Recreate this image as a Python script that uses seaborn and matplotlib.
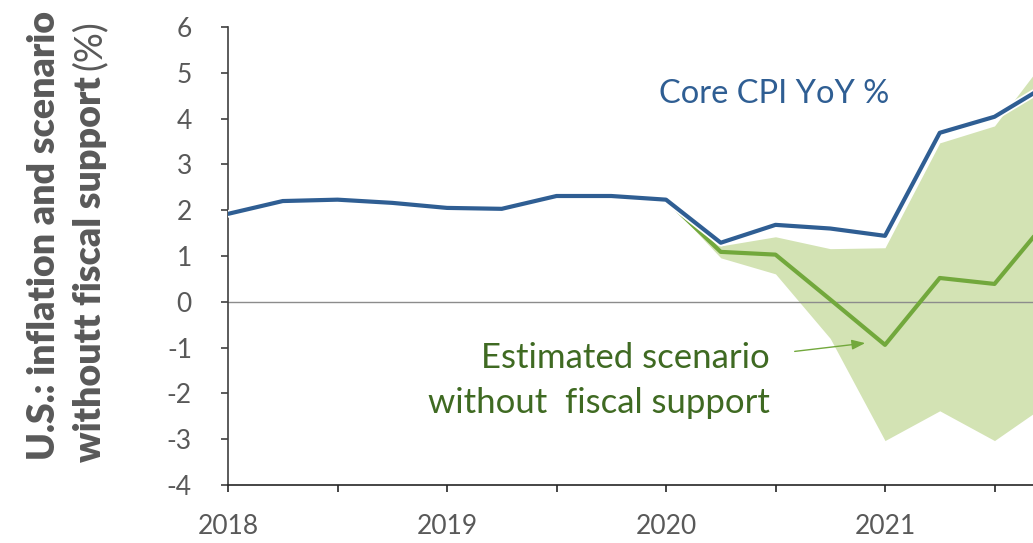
import matplotlib
matplotlib.use("Agg")
import matplotlib.pyplot as plt
import matplotlib.patheffects as pe
import seaborn as sns
import pandas as pd

# ---- data ----
quarters = [2018.00, 2018.25, 2018.50, 2018.75, 2019.00, 2019.25, 2019.50, 2019.75,
            2020.00, 2020.25, 2020.50, 2020.75, 2021.00, 2021.25, 2021.50, 2021.75]
core_cpi = [1.92, 2.20, 2.23, 2.16, 2.05, 2.03, 2.31, 2.31,
            2.23, 1.29, 1.68, 1.60, 1.44, 3.69, 4.04, 4.76]

scen_quarters = [2020.00, 2020.25, 2020.50, 2020.75, 2021.00, 2021.25, 2021.50, 2021.75]
scenario = [2.23, 1.09, 1.03, 0.05, -0.94, 0.52, 0.39, 1.83]
scen_low = [2.23, 0.96, 0.61, -0.80, -3.03, -2.38, -3.03, -2.20]
scen_high = [2.23, 1.22, 1.42, 1.16, 1.18, 3.47, 3.84, 5.41]

year_ticks = [2018, 2019, 2020, 2021]
year_labels = ["2018", "2019", "2020", "2021"]
y_ticks = [-4, -3, -2, -1, 0, 1, 2, 3, 4, 5, 6]

BLUE = "#2F5E93"
GREEN = "#72A83C"
BAND = "#D3E3B4"
DKGREEN = "#3F6A22"
GRAY = "#595959"

sns.set_style("white")
plt.rcParams["font.family"] = ["Lato", "DejaVu Sans"]

fig = plt.figure(figsize=(10.33, 5.43), dpi=100)
W, H = 1033, 543
ax = fig.add_axes([228 / W, (543 - 485) / H, 876 / W, 458 / H])

df_core = pd.DataFrame({"q": quarters, "v": core_cpi})
df_scen = pd.DataFrame({"q": scen_quarters, "v": scenario})

ax.fill_between(scen_quarters, scen_low, scen_high, color=BAND, lw=0, zorder=1)
ax.axhline(0, color="#8C8C8C", lw=1.0, zorder=2)

sns.lineplot(data=df_scen, x="q", y="v", ax=ax, color=GREEN, lw=3.0, zorder=3)
sns.lineplot(data=df_core, x="q", y="v", ax=ax, color=BLUE, lw=3.0, zorder=4,
             path_effects=[pe.Stroke(linewidth=5.5, foreground="white"), pe.Normal()])

ax.set_xlim(2018, 2022)
ax.set_ylim(-4, 6)
ax.set_yticks(y_ticks)
ax.set_yticklabels([str(t) for t in y_ticks])
ax.set_xticks(year_ticks)
ax.set_xticklabels(year_labels)
ax.set_xticks([2018.5, 2019.5, 2020.5, 2021.5], minor=True)
ax.set_xlabel("")
ax.set_ylabel("")

for s in ["top", "right"]:
    ax.spines[s].set_visible(False)
ax.spines["left"].set_color("#404040")
ax.spines["bottom"].set_color("#262626")
ax.spines["left"].set_linewidth(1.2)
ax.spines["bottom"].set_linewidth(1.2)

ax.tick_params(axis="y", which="major", direction="out", length=5, width=1.2,
               color="#404040", labelcolor=GRAY, labelsize=19, pad=21, left=True)
ax.tick_params(axis="x", which="both", direction="out", length=5, width=1.2,
               color="#262626", labelcolor=GRAY, labelsize=19, pad=16, bottom=True)
for lab in ax.get_yticklabels():
    lab.set_horizontalalignment("right")

# annotations
ax.text(2019.97, 4.35, "Core CPI YoY %", color=BLUE, fontsize=23.5,
        ha="left", va="baseline")
ax.text(2020.475, -1.44, "Estimated scenario", color=DKGREEN, fontsize=25,
        ha="right", va="baseline")
ax.text(2020.475, -2.42, "without  fiscal support", color=DKGREEN, fontsize=25,
        ha="right", va="baseline")
ax.annotate("", xy=(2020.922, -0.895), xytext=(2020.575, -1.09),
            arrowprops=dict(arrowstyle="-|>,head_length=0.8,head_width=0.3",
                            color=GREEN, lw=1.0))

# y label (two lines, mixed weight)
fig.text(44 / W, 1 - 235 / H, "U.S.: inflation and scenario", rotation=90,
         color=GRAY, fontsize=27, fontweight="heavy", ha="center", va="center")
t2 = fig.text(90 / W, 1 - 462 / H, "withoutt fiscal support", rotation=90,
              color=GRAY, fontsize=27, fontweight="heavy", ha="center", va="bottom")
fig.canvas.draw()
bb = t2.get_window_extent()
fig.text(90 / W, (bb.y1 + 6) / H, "(%)", rotation=90, color=GRAY,
         fontsize=27, ha="center", va="bottom")

fig.savefig("out.png", dpi=100)
